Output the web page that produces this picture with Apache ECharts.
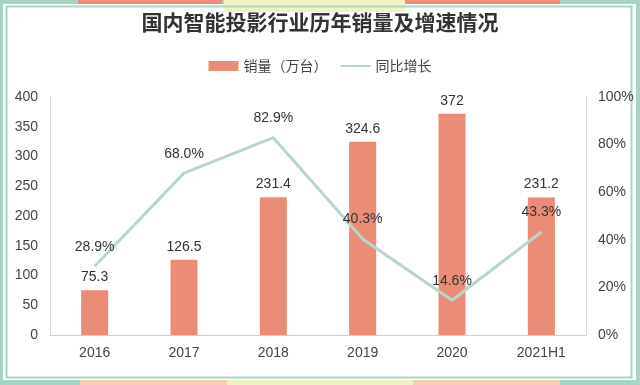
<!DOCTYPE html>
<html><head><meta charset="utf-8">
<script src="https://cdn.jsdelivr.net/npm/echarts@6/dist/echarts.min.js"></script>
<style>html,body{margin:0;padding:0;background:#fff}#c{width:640px;height:385px}</style>
</head><body><div id="c"></div>
<script>
const categories = ['2016','2017','2018','2019','2020','2021H1'];
const sales = [75.3, 126.5, 231.4, 324.6, 372, 231.2];
const growth = [28.9, 68.0, 82.9, 40.3, 14.6, 43.3];
const leftTicks = [0, 50, 100, 150, 200, 250, 300, 350, 400];
const rightTicks = [0, 20, 40, 60, 80, 100];

const chart = echarts.init(document.getElementById('c'), null, {renderer:'canvas'});
const font = '"Noto Sans CJK SC", "Noto Sans", sans-serif';
const numFont = '"Liberation Sans", "Noto Sans CJK SC", sans-serif';
chart.setOption({
  backgroundColor: '#fff',
  animation: false,
  graphic: [
    {type:'rect', shape:{x:0,y:0,width:640,height:4}, style:{fill:'#a9d3c3'}},
    {type:'rect', shape:{x:78,y:0,width:144,height:4}, style:{fill:'#ec8f7a'}},
    {type:'rect', shape:{x:405,y:0,width:155,height:4}, style:{fill:'#ec8f7a'}},
    {type:'rect', shape:{x:224,y:0,width:181,height:12}, style:{fill:'#f3f2c0'}},
    {type:'rect', shape:{x:0,y:0,width:3,height:385}, style:{fill:'#a9d3c3'}},
    {type:'rect', shape:{x:636,y:0,width:4,height:385}, style:{fill:'#a9d3c3'}},
    {type:'rect', shape:{x:0,y:380,width:640,height:5}, style:{fill:'#a9d3c3'}},
    {type:'rect', shape:{x:80,y:380,width:147,height:5}, style:{fill:'#f6cfb0'}},
    {type:'rect', shape:{x:227,y:380,width:186,height:5}, style:{fill:'#f1f2c4'}},
    {type:'rect', shape:{x:413,y:380,width:147,height:5}, style:{fill:'#f6cfb0'}},
    {type:'rect', shape:{x:6.5,y:6.5,width:625,height:371}, style:{fill:'none', stroke:'#a9d3c3', lineWidth:2}}
  ],
  title: {
    text: '国内智能投影行业历年销量及增速情况',
    left: 'center', top: 7,
    textStyle: {fontFamily: font, fontSize: 21, fontWeight: 'bold', color: '#333'}
  },
  legend: {
    top: 54, left: 'center', itemWidth: 30, itemHeight: 10, itemGap: 12,
    textStyle: {fontFamily: font, fontSize: 14, color: '#444'},
    data: [{name:'销量（万台）', icon:'rect'}, {name:'同比增长', itemStyle:{opacity:0}}]
  },
  grid: {left: 50, right: 54, top: 97, bottom: 50},
  xAxis: {
    type: 'category', data: categories,
    axisLine: {lineStyle: {color: '#d0d0d0'}},
    axisTick: {show: false},
    axisLabel: {fontFamily: numFont, fontSize: 14, color: '#444', margin: 11}
  },
  yAxis: [
    {type:'value', min: leftTicks[0], max: leftTicks[leftTicks.length-1], interval: 50,
     axisLine:{show:true, lineStyle:{color:'#d8d8d8'}}, splitLine:{show:false}, axisTick:{show:false},
     axisLabel:{fontFamily: numFont, fontSize: 14, color:'#444', margin: 12}},
    {type:'value', min: rightTicks[0], max: rightTicks[rightTicks.length-1], interval: 20,
     axisLine:{show:true, lineStyle:{color:'#d8d8d8'}}, splitLine:{show:false}, axisTick:{show:false},
     axisLabel:{fontFamily: numFont, fontSize: 14, color:'#444', margin: 12, formatter: '{value}%'}}
  ],
  series: [
    {name:'销量（万台）', type:'bar', data: sales, barWidth: 27,
     itemStyle:{color:'#ea8c76'},
     label:{show:true, position:'top', distance: 6, fontFamily: numFont, fontSize: 14, color:'#333'}},
    {name:'同比增长', type:'line', yAxisIndex:1, data: growth, symbol:'circle', symbolSize: 1, showSymbol: true,
     lineStyle:{color:'#b8d6ca', width:3}, itemStyle:{color:'#b8d6ca'},
     label:{show:true, position:'top', distance: 12, fontFamily: numFont, fontSize: 14, color:'#333',
            formatter: p => p.value.toFixed(1) + '%'}}
  ]
});
</script></body></html>
